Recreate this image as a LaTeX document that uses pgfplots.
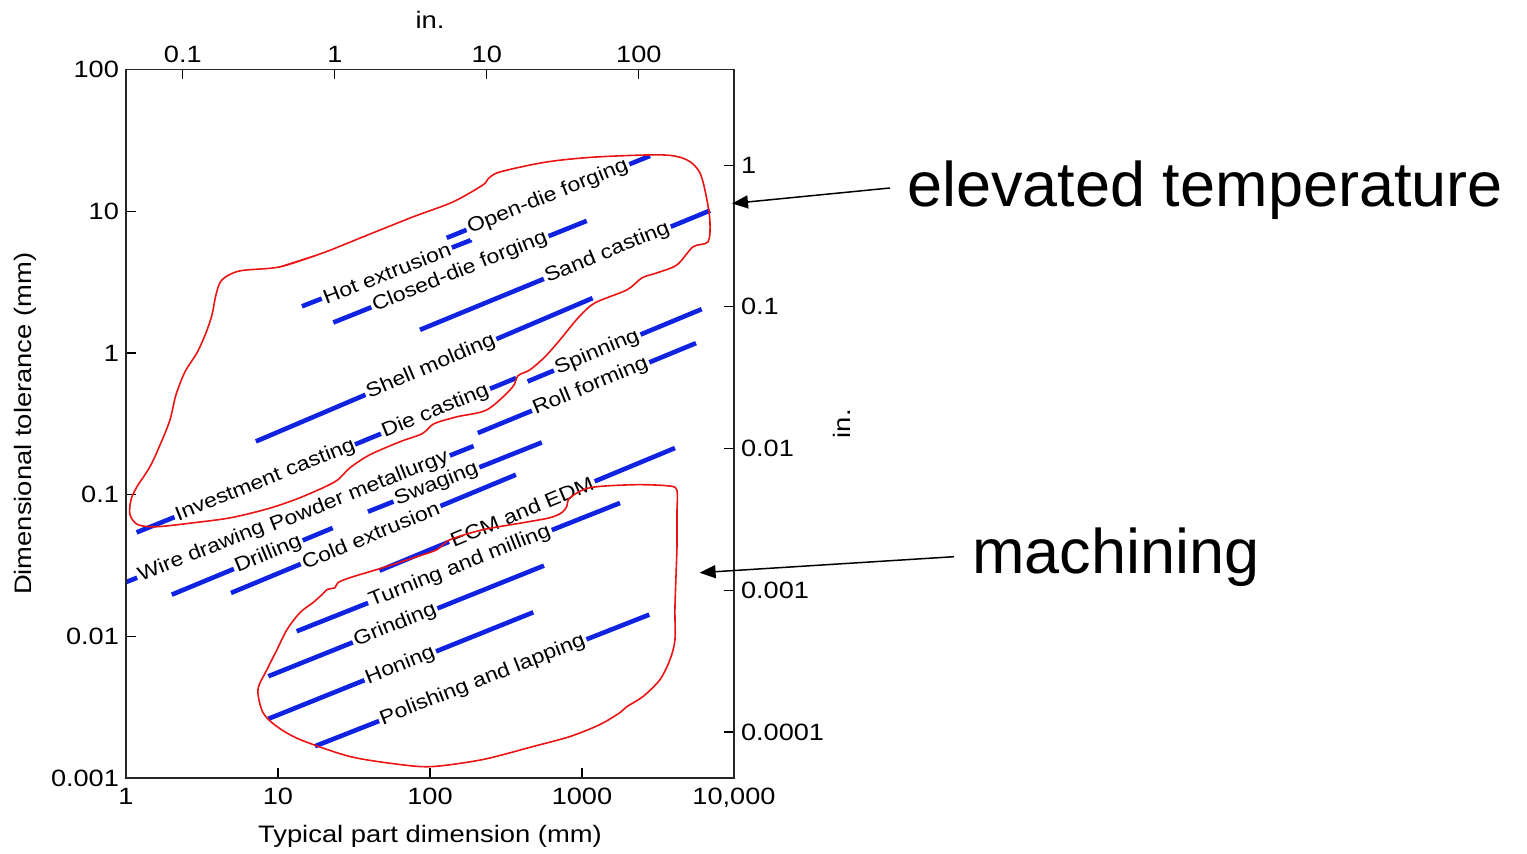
\documentclass[border=0pt]{standalone}
\usepackage{pgfplots}
\pgfplotsset{compat=1.18}
\usetikzlibrary{arrows.meta}
\usepackage{fontspec}
\setmainfont{Liberation Sans}[FakeStretch=1.15]
\newfontfamily\annfont{Liberation Sans}
\definecolor{procblue}{RGB}{15,35,225}
\definecolor{curvered}{RGB}{235,20,20}
\tikzset{lbl/.style={sloped, fill=white, inner sep=1pt, text=black, font=\fontsize{10}{11}\selectfont}}
\pgfplotsset{proc/.style={procblue, line width=2.3pt, mark=none},
  redc/.style={curvered, line width=0.8pt, mark=none, smooth}}
\begin{document}
\begin{tikzpicture}
\path[use as bounding box] (-63pt,-37.5pt) rectangle (700.5pt,389pt);
\begin{axis}[
  at={(0,0)}, anchor=south west,
  scale only axis, width=304pt, height=354.25pt,
  xmode=log, ymode=log,
  xmin=1, xmax=10000, ymin=0.001, ymax=100,
  xtick={1,10,100,1000,10000},
  xticklabels={1,10,100,1000,{10,000}},
  ytick={0.001,0.01,0.1,1,10,100},
  yticklabels={0.001,0.01,0.1,1,10,100},
  xminorticks=false, yminorticks=false,
  xtick pos=left, ytick pos=left,
  tick align=inside, major tick length=5pt,
  tick style={black, line width=0.6pt},
  axis line style={line width=0.75pt, black!85},
  tick label style={font=\fontsize{11.8}{13}\selectfont},
  xticklabel style={yshift=-1.5pt},
  xlabel={Typical part dimension (mm)},
  ylabel={Dimensional tolerance (mm)},
  label style={font=\fontsize{11.9}{14}\selectfont},
  xlabel style={at={(axis description cs:0.5,-0.0819)}, anchor=center},
  ylabel style={at={(axis description cs:-0.1661,0.5)}, anchor=center},
]
% process lines
\addplot[proc] coordinates {(14.38,2.131) (188.0,6.276)} node[pos=0.50, lbl] {Hot extrusion};
\addplot[proc] coordinates {(128.8,6.482) (2802,24.55)} node[pos=0.498, lbl] {Open-die forging};
\addplot[proc] coordinates {(23.11,1.638) (1074,8.543)} node[pos=0.50, lbl] {Closed-die forging};
\addplot[proc] coordinates {(85.94,1.455) (6952,10.10)} node[pos=0.646, lbl] {Sand casting};
\addplot[proc] coordinates {(7.154,0.2373) (1174,2.435)} node[pos=0.52, lbl] {Shell molding};
\addplot[proc] coordinates {(1.174,0.05411) (32.11,0.2259)} node[pos=0.59, lbl] {Investment casting};
\addplot[proc] coordinates {(32.11,0.2259) (368.4,0.6645)} node[pos=0.50, lbl] {Die casting};
\addplot[proc] coordinates {(438.7,0.6287) (6131,2.036)} node[pos=0.40, lbl] {Spinning};
\addplot[proc] coordinates {(206.3,0.2719) (5623,1.172)} node[pos=0.517, lbl] {Roll forming};
\addplot[proc] coordinates {(1,0.02411) (7.612,0.05756)} node[pos=0.563, lbl] {Wire drawing};
\addplot[proc] coordinates {(9.131,0.05936) (193.6,0.2201)} node[pos=0.434, lbl] {Powder metallurgy};
\addplot[proc] coordinates {(39.09,0.07573) (543.8,0.2334)} node[pos=0.394, lbl] {Swaging};
\addplot[proc] coordinates {(2.001,0.01968) (22.90,0.05813)} node[pos=0.60, lbl] {Drilling};
\addplot[proc] coordinates {(4.907,0.02023) (367.4,0.1381)} node[pos=0.49, lbl] {Cold extrusion};
\addplot[proc] coordinates {(46.53,0.02906) (4090,0.2131)} node[pos=0.482, lbl] {ECM and EDM};
\addplot[proc] coordinates {(13.27,0.01085) (1778,0.08725)} node[pos=0.505, lbl] {Turning and milling};
\addplot[proc] coordinates {(8.635,0.005222) (562.3,0.03152)} node[pos=0.46, lbl] {Grinding};
\addplot[proc] coordinates {(8.635,0.002615) (478.2,0.01477)} node[pos=0.498, lbl] {Honing};
\addplot[proc] coordinates {(17.51,0.001676) (2772,0.01422)} node[pos=0.502, lbl] {Polishing and lapping};
% elevated temperature outline
\addplot[redc] coordinates {
(10.31,4.048) (19.78,5.080) (36.25,6.588) (77.30,9.117) (141.7,11.63) (223.2,15.33)
(240.8,16.90) (288.7,18.93) (588.4,22.27) (1255,24.15) (3411,24.95) (4907,23.00)
(5974,18.63) (6643,12.02) (6952,8.270) (6745,6.073) (5374,5.601) (4217,4.181)
(3114,3.672) (2481,3.385) (1977,2.786) (1218,2.256) (955.7,1.797) (716.6,1.237)
(570.9,0.9386) (454.9,0.7600) (379.3,0.6897) (346.3,0.5674) (237.1,0.3970) (150.5,0.3542)
(106.2,0.3162) (88.6,0.2688) (63.49,0.2361) (40.30,0.1912) (29.77,0.1548) (23.71,0.1233)
(13.95,0.09508) (8.594,0.07955) (4.907,0.06872) (2.802,0.06334) (1.599,0.05936) (1.199,0.06132)
(1.062,0.07215) (1.079,0.09206) (1.181,0.1137) (1.438,0.1573) (1.699,0.2323) (1.948,0.3375)
(2.133,0.5065) (2.444,0.7358) (2.932,1.002) (3.360,1.386) (3.680,1.857) (3.909,2.569)
(4.281,3.278) (5.623,3.793) (10.31,4.048) (19.78,5.080)};
% machining outline
\addplot[redc] coordinates {
(4217,0.04292) (4217,0.07452) (4198,0.1083) (3607,0.1155) (2165,0.1174) (1129,0.1119)
(833.9,0.09508) (793.0,0.08217) (735.2,0.07452) (616.0,0.06872) (409.1,0.06334) (223.2,0.05655)
(135.4,0.04806) (111.2,0.04088) (82.12,0.03649) (49.07,0.03051) (29.77,0.02594) (24.81,0.02392)
(23.71,0.02205) (21.01,0.02135) (19.48,0.01968) (16.99,0.01729) (13.95,0.01470) (11.46,0.01115)
(9.849,0.008056) (8.465,0.005824) (7.385,0.004208) (7.966,0.002896) (9.849,0.002308) (13.95,0.001869)
(29.77,0.001418) (63.49,0.001245) (104.6,0.001205) (223.2,0.001351) (476.0,0.001668) (833.9,0.001963)
(1313,0.002384) (1778,0.002896) (1977,0.003193) (2519,0.003756) (3260,0.004950) (3793,0.006851)
(4090,0.009478) (4090,0.01620) (4217,0.04292) (4217,0.07452)};
\end{axis}
\begin{axis}[
  at={(0,0)}, anchor=south west,
  scale only axis, width=304pt, height=354.25pt,
  xmode=log, ymode=log,
  xmin=0.04227, xmax=422.7, ymin=4.732e-5, ymax=4.732,
  xtick={0.1,1,10,100}, xticklabels={0.1,1,10,100},
  ytick={0.0001,0.001,0.01,0.1,1}, yticklabels={0.0001,0.001,0.01,0.1,1},
  xminorticks=false, yminorticks=false,
  xtick pos=right, ytick pos=right,
  xticklabel pos=right, yticklabel pos=right,
  tick align=inside, major tick length=5pt,
  tick style={black, line width=0.6pt},
  axis line style={line width=0.75pt, black!85},
  tick label style={font=\fontsize{11.8}{13}\selectfont},
  xlabel={in.}, ylabel={in.},
  label style={font=\fontsize{11.9}{14}\selectfont},
  xlabel style={at={(axis description cs:0.5,1.0699)}, anchor=center},
  ylabel style={at={(axis description cs:1.1776,0.5)}, anchor=center},
]
\end{axis}
\begin{scope}[x=0.5pt,y=0.5pt]
\node[anchor=base west, inner sep=0pt, font={\annfont\fontsize{31.5}{36}\selectfont}] at (781,571) {elevated temperature};
\node[anchor=base west, inner sep=0pt, font={\annfont\fontsize{31.5}{36}\selectfont}] at (846,205) {machining};
\draw[line width=0.75pt, -{Triangle[length=8pt,width=6.5pt]}] (764,590) -- (606,574.5);
\draw[line width=0.75pt, -{Triangle[length=8pt,width=6.5pt]}] (828,221.3) -- (573.6,205.3);
\end{scope}
\end{tikzpicture}
\end{document}
